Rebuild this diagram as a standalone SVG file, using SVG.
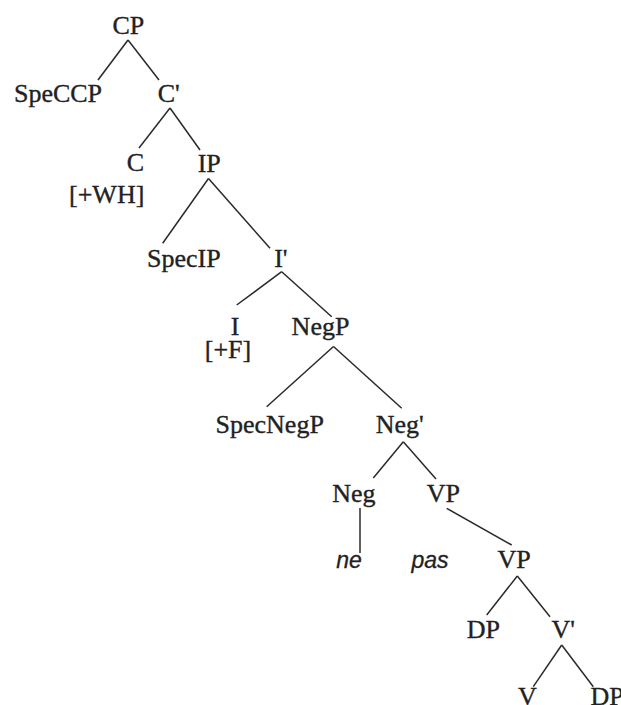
<svg xmlns="http://www.w3.org/2000/svg" width="621" height="705" viewBox="0 0 621 705">
<style>
.t{font-family:"Liberation Serif","Times New Roman",serif;font-size:26px;fill:#222;stroke:#222;stroke-width:0.35;text-anchor:middle}
.i{font-family:"Liberation Sans",Arial,sans-serif;font-style:italic;font-size:23px;fill:#222;stroke:#222;stroke-width:0.3;text-anchor:middle}
.e line{stroke:#2a2a2a;stroke-width:1.5;fill:none}
</style>
<rect width="621" height="705" fill="#fff"/>
<g class="e" id="connectors">
<line x1="128" y1="40" x2="98" y2="80"/>
<line x1="128" y1="40" x2="159" y2="80"/>
<line x1="170" y1="108" x2="139" y2="148"/>
<line x1="170" y1="108" x2="200" y2="150"/>
<line x1="208.5" y1="178.5" x2="162.7" y2="243.3"/>
<line x1="208.5" y1="178.5" x2="270" y2="248.3"/>
<line x1="281.7" y1="271.7" x2="236.7" y2="305"/>
<line x1="281.7" y1="271.7" x2="331.7" y2="316.7"/>
<line x1="333.5" y1="346.5" x2="266.7" y2="406.7"/>
<line x1="333.5" y1="346.5" x2="401.7" y2="408.3"/>
<line x1="403.3" y1="441.7" x2="373.3" y2="478"/>
<line x1="403.3" y1="441.7" x2="436" y2="479"/>
<line x1="360" y1="508" x2="360" y2="553"/>
<line x1="446.7" y1="508.3" x2="511.7" y2="545"/>
<line x1="517.3" y1="576" x2="486.7" y2="615"/>
<line x1="517.3" y1="576" x2="550" y2="616.7"/>
<line x1="561.7" y1="645" x2="533.3" y2="686.7"/>
<line x1="561.7" y1="645" x2="593.3" y2="686.7"/>
</g>
<g id="n-CP"><text class="t" x="128.3" y="34">CP</text></g>
<g id="n-SpeCCP"><text class="t" x="58" y="102">SpeCCP</text></g>
<g id="n-Cbar"><text class="t" x="168.8" y="102">C'</text></g>
<g id="n-C"><text class="t" x="135.5" y="171">C</text><text class="t" x="106.7" y="203">[+WH]</text></g>
<g id="n-IP"><text class="t" x="209.2" y="171.5">IP</text></g>
<g id="n-SpecIP"><text class="t" x="183.8" y="267">SpecIP</text></g>
<g id="n-Ibar"><text class="t" x="280.8" y="267">I'</text></g>
<g id="n-I"><text class="t" x="235" y="335">I</text><text class="t" x="228" y="358">[+F]</text></g>
<g id="n-NegP"><text class="t" x="320.5" y="335">NegP</text></g>
<g id="n-SpecNegP"><text class="t" x="269.7" y="433">SpecNegP</text></g>
<g id="n-Negbar"><text class="t" x="399.7" y="433">Neg'</text></g>
<g id="n-Neg"><text class="t" x="353.8" y="501.7">Neg</text></g>
<g id="n-VP1"><text class="t" x="443.3" y="501.7">VP</text></g>
<g id="n-ne"><text class="i" x="349" y="568">ne</text></g>
<g id="n-pas"><text class="i" x="430" y="568">pas</text></g>
<g id="n-VP2"><text class="t" x="514.2" y="568">VP</text></g>
<g id="n-DP1"><text class="t" x="483.3" y="638">DP</text></g>
<g id="n-Vbar"><text class="t" x="563.3" y="638">V'</text></g>
<g id="n-V"><text class="t" x="527.3" y="705">V</text></g>
<g id="n-DP2"><text class="t" x="607" y="705">DP</text></g>
</svg>
